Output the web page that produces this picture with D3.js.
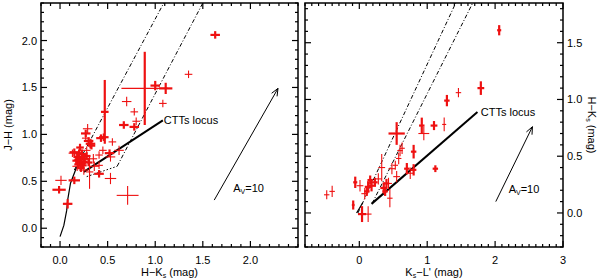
<!DOCTYPE html>
<html><head><meta charset="utf-8">
<script src="https://cdn.jsdelivr.net/npm/d3@7"></script>
<style>
body{margin:0;background:#fff;}
svg{display:block;font-family:"Liberation Sans",Arial,sans-serif;}
</style></head>
<body><svg id="c" width="600" height="280"></svg>
<script>
// ---------- DATA ----------
// Left panel: x = H-Ks, y = J-H  [x, y, xerr, yerr]
const leftThick = [
 [1.63,2.06,0.05,0.04],[1.00,1.52,0.05,0.05],[1.11,1.49,0.07,0.06],[0.89,1.49,0.245,0.39],
 [0.47,1.24,0.04,0.34],[0.67,1.10,0.05,0.04],[0.78,1.08,0.05,0.04],[0.27,1.01,0.05,0.04],
 [0.46,0.97,0.05,0.04],[0.43,0.96,0.05,0.04],[0.32,0.90,0.05,0.05],[0.15,0.81,0.05,0.04],
 [0.20,0.73,0.05,0.05],[0.22,0.70,0.04,0.05],[0.18,0.76,0.04,0.04],[0.24,0.67,0.04,0.04],
 [0.52,0.80,0.05,0.04],[0.41,0.58,0.05,0.04],[-0.01,0.41,0.07,0.04],[0.15,0.51,0.06,0.04],
 [0.08,0.26,0.05,0.05],[0.26,0.74,0.05,0.06],[0.21,0.86,0.04,0.04],[0.30,0.70,0.04,0.04],
 [0.19,0.68,0.04,0.04],[0.23,0.79,0.04,0.05],[0.17,0.72,0.04,0.04],[0.28,0.77,0.04,0.04],
 [0.20,0.80,0.04,0.04],[0.25,0.71,0.04,0.05],[0.30,0.93,0.05,0.04],[0.22,0.64,0.04,0.04],
 [0.33,0.88,0.04,0.04]
];
const leftThin = [
 [1.35,1.64,0.04,0.04],[1.08,1.33,0.04,0.04],[0.70,1.35,0.05,0.05],[0.78,1.24,0.04,0.04],
 [0.80,1.14,0.04,0.04],[0.29,1.06,0.05,0.05],[0.27,0.96,0.04,0.04],[0.55,0.92,0.04,0.04],
 [0.62,0.83,0.05,0.05],[0.41,0.78,0.04,0.04],[0.41,0.67,0.04,0.04],[0.31,0.60,0.04,0.18],
 [0.53,0.53,0.06,0.06],[0.71,0.35,0.115,0.10],[0.01,0.51,0.06,0.05],[0.53,0.76,0.05,0.05],
 [0.35,0.74,0.04,0.05],[0.13,0.80,0.04,0.04],[0.28,0.83,0.04,0.04],[0.45,0.83,0.04,0.04],
 [0.25,0.62,0.05,0.05],[0.36,0.66,0.05,0.05],[0.18,0.66,0.05,0.05]
];
// Right panel: x = Ks-L', y = H-Ks  [x, y, xerr, yerr]
const rightThick = [
 [2.06,1.61,0.03,0.045],[1.79,1.10,0.05,0.06],[1.29,0.99,0.04,0.05],[1.10,0.77,0.05,0.04],
 [0.92,0.77,0.04,0.07],[0.55,0.70,0.12,0.10],[0.80,0.54,0.04,0.06],[0.80,0.38,0.04,0.05],
 [1.12,0.39,0.04,0.03],[0.70,0.39,0.04,0.05],[0.36,0.22,0.05,0.05],[0.38,0.19,0.04,0.04],
 [0.13,0.23,0.05,0.05],[0.18,0.24,0.04,0.05],[0.16,0.29,0.04,0.04],[-0.06,0.27,0.03,0.05],
 [-0.09,0.07,0.02,0.04],[0.04,-0.01,0.06,0.07],[0.11,0.19,0.04,0.04],[0.23,0.27,0.04,0.04],
 [0.40,0.26,0.04,0.04]
];
const rightThin = [
 [1.46,1.06,0.04,0.04],[1.25,0.78,0.03,0.06],[0.95,0.70,0.08,0.06],[0.60,0.55,0.04,0.05],
 [0.33,0.40,0.05,0.12],[0.58,0.48,0.04,0.05],[0.53,0.42,0.04,0.04],[0.48,0.39,0.05,0.05],
 [0.75,0.35,0.05,0.05],[0.55,0.32,0.05,0.05],[0.28,0.30,0.05,0.05],[0.43,0.26,0.05,0.05],
 [0.45,0.13,0.04,0.08],[0.01,0.24,0.05,0.05],[0.08,0.17,0.05,0.05],[-0.48,0.16,0.04,0.04],
 [-0.40,0.19,0.04,0.05],[0.13,-0.01,0.05,0.07],[0.63,0.57,0.04,0.05]
];
// Loci / reference lines (data coordinates)
const leftDwarf = [[0.0,-0.09],[0.04,0.03],[0.07,0.19],[0.08,0.30],[0.11,0.48],[0.17,0.64],[0.22,0.70]];
const leftCTTs = [[0.25,0.60],[1.08,1.15]];
const leftRed1 = [[0.15,0.62],[1.09,2.40]];
const leftRed2 = [[0.60,0.66],[1.50,2.40]];
const leftGiant = [[0.28,0.55],[0.60,0.66]];
const leftAv = [[1.62,0.30],[2.29,1.49]];
const rightDwarf = [[-0.04,0.0],[0.05,0.09]];
const rightCTTs = [[0.18,0.08],[1.74,0.89]];
const rightRed1 = [[-0.02,0.0],[1.42,1.85]];
const rightRed2 = [[0.19,0.085],[1.67,1.85]];
const rightAv = [[2.01,0.10],[2.55,0.76]];
// Tick labels
const leftXTicks = [0,0.5,1.0,1.5,2.0];
const leftYTicks = [0,0.5,1.0,1.5,2.0];
const rightXTicks = [0,1,2,3];
const rightYTicks = [0,0.5,1.0,1.5];

// ---------- DRAW ----------
const svg = d3.select("#c");
const RED = "#ee1111";

function minorTicks(lo, hi, step){
  const out=[]; const n0=Math.ceil(lo/step-1e-9), n1=Math.floor(hi/step+1e-9);
  for(let i=n0;i<=n1;i++) out.push(+(i*step).toFixed(6));
  return out;
}

function panel(cfg){
  const x = d3.scaleLinear().domain(cfg.xd).range([cfg.x0,cfg.x1]);
  const y = d3.scaleLinear().domain(cfg.yd).range([cfg.y1,cfg.y0]);
  const g = svg.append("g");
  const line = d3.line().x(d=>x(d[0])).y(d=>y(d[1]));
  const clip = "clip"+cfg.id;
  svg.append("clipPath").attr("id",clip).append("rect")
    .attr("x",cfg.x0).attr("y",cfg.y0).attr("width",cfg.x1-cfg.x0).attr("height",cfg.y1-cfg.y0);
  const inner = g.append("g").attr("clip-path",`url(#${clip})`);

  // lines
  inner.append("path").attr("d",line(cfg.dwarf)).attr("fill","none").attr("stroke","#000").attr("stroke-width",1.2);
  if(cfg.giant) inner.append("path").attr("d",line(cfg.giant)).attr("fill","none").attr("stroke","#000").attr("stroke-width",1).attr("stroke-dasharray","1.5,2");
  [cfg.red1,cfg.red2].forEach(r=>inner.append("path").attr("d",line(r)).attr("fill","none")
     .attr("stroke","#000").attr("stroke-width",1).attr("stroke-dasharray","4,2,1,2"));
  inner.append("path").attr("d",line(cfg.ctts)).attr("fill","none").attr("stroke","#000").attr("stroke-width",2);

  // reddening arrow
  const a0=[x(cfg.av[0][0]),y(cfg.av[0][1])], a1=[x(cfg.av[1][0]),y(cfg.av[1][1])];
  inner.append("line").attr("x1",a0[0]).attr("y1",a0[1]).attr("x2",a1[0]).attr("y2",a1[1]).attr("stroke","#000").attr("stroke-width",1);
  const ang=Math.atan2(a1[1]-a0[1],a1[0]-a0[0]), L=8, sp=0.4;
  const head=[[a1[0]-L*Math.cos(ang-sp),a1[1]-L*Math.sin(ang-sp)],a1,[a1[0]-L*Math.cos(ang+sp),a1[1]-L*Math.sin(ang+sp)]];
  inner.append("path").attr("d",d3.line()(head)).attr("fill","none").attr("stroke","#000").attr("stroke-width",1);

  // data crosses
  function crosses(data, w){
    const s = inner.append("g").attr("stroke",RED);
    data.forEach(d=>{
      const hw = (x(d[0]+d[2])-x(d[0])) > 9 ? 1.1 : w;
      s.append("line").attr("stroke-width",hw).attr("x1",x(d[0]-d[2])).attr("x2",x(d[0]+d[2])).attr("y1",y(d[1])).attr("y2",y(d[1]));
      s.append("line").attr("stroke-width",w).attr("x1",x(d[0])).attr("x2",x(d[0])).attr("y1",y(d[1]-d[3])).attr("y2",y(d[1]+d[3]));
    });
  }
  crosses(cfg.thin,1.1);
  crosses(cfg.thick,2.2);

  // annotations
  g.append("text").attr("x",x(cfg.cttsLab[0])).attr("y",y(cfg.cttsLab[1])).attr("font-size",11).text("CTTs locus");
  const t=g.append("text").attr("x",x(cfg.avLab[0])).attr("y",y(cfg.avLab[1])).attr("font-size",11);
  t.append("tspan").text("A");
  t.append("tspan").attr("font-size",7).attr("dy",2).text("V");
  t.append("tspan").attr("dy",-2).text("=10");

  // frame
  g.append("rect").attr("x",cfg.x0).attr("y",cfg.y0).attr("width",cfg.x1-cfg.x0).attr("height",cfg.y1-cfg.y0)
   .attr("fill","none").attr("stroke","#000").attr("stroke-width",1.5);

  // ticks on all four sides
  const tk = g.append("g").attr("stroke","#000").attr("stroke-width",1.2);
  const isMaj=(v,arr)=>arr.some(a=>Math.abs(a-v)<1e-6);
  minorTicks(cfg.xd[0],cfg.xd[1],0.1).forEach(v=>{
    const len = isMaj(v,cfg.xt)?6:3, px=x(v);
    tk.append("line").attr("x1",px).attr("x2",px).attr("y1",cfg.y1).attr("y2",cfg.y1-len);
    tk.append("line").attr("x1",px).attr("x2",px).attr("y1",cfg.y0).attr("y2",cfg.y0+len);
  });
  minorTicks(cfg.yd[0],cfg.yd[1],0.1).forEach(v=>{
    const len = isMaj(v,cfg.yt)?6:3, py=y(v);
    tk.append("line").attr("y1",py).attr("y2",py).attr("x1",cfg.x0).attr("x2",cfg.x0+len);
    tk.append("line").attr("y1",py).attr("y2",py).attr("x1",cfg.x1).attr("x2",cfg.x1-len);
  });

  // tick labels
  cfg.xt.forEach(v=>g.append("text").attr("x",x(v)).attr("y",264).attr("text-anchor","middle")
    .attr("font-size",11).text(cfg.xfmt(v)));
  cfg.yt.forEach(v=>{
    const right = cfg.yside==="right";
    g.append("text").attr("x",right?cfg.x1+4:cfg.x0-4).attr("y",y(v)+4)
     .attr("text-anchor",right?"start":"end").attr("font-size",11).text(d3.format(".1f")(v));
  });

  // x label
  const xl=g.append("text").attr("x",(cfg.x0+cfg.x1)/2).attr("y",276).attr("text-anchor","middle").attr("font-size",11);
  cfg.xlab(xl);
  // y label
  const right = cfg.yside==="right";
  const yl=g.append("text").attr("text-anchor","middle").attr("font-size",11)
    .attr("transform",right?`translate(588,${(cfg.y0+cfg.y1)/2}) rotate(90)`:`translate(12,${(cfg.y0+cfg.y1)/2}) rotate(-90)`);
  cfg.ylab(yl);
}

function hk(t){ t.append("tspan").text("H\u2212K"); t.append("tspan").attr("font-size",7).attr("dy",2).text("s");
  t.append("tspan").attr("dy",-2).text(" (mag)"); }

panel({id:"L", x0:41, x1:298, y0:3, y1:247, xd:[-0.2,2.5], yd:[-0.2,2.4],
  thick:leftThick, thin:leftThin, dwarf:leftDwarf, giant:leftGiant, ctts:leftCTTs, red1:leftRed1, red2:leftRed2, av:leftAv,
  cttsLab:[1.09,1.11], avLab:[1.82,0.39], xt:leftXTicks, yt:leftYTicks, xfmt:d3.format(".1f"), yside:"left",
  xlab:hk, ylab:t=>t.text("J\u2212H (mag)")});

panel({id:"R", x0:305, x1:563, y0:3, y1:247, xd:[-0.8,3.0], yd:[-0.3,1.85],
  thick:rightThick, thin:rightThin, dwarf:rightDwarf, giant:null, ctts:rightCTTs, red1:rightRed1, red2:rightRed2, av:rightAv,
  cttsLab:[1.79,0.85], avLab:[2.2,0.18], xt:rightXTicks, yt:rightYTicks, xfmt:d3.format("d"), yside:"right",
  xlab:t=>{t.append("tspan").text("K"); t.append("tspan").attr("font-size",7).attr("dy",2).text("s");
           t.append("tspan").attr("dy",-2).text("\u2212L' (mag)");},
  ylab:hk});
</script></body></html>
